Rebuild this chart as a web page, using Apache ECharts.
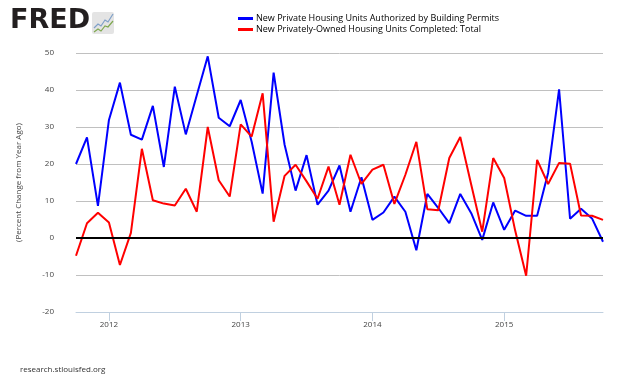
<!DOCTYPE html>
<html>
<head>
<meta charset="utf-8">
<script src="https://cdn.jsdelivr.net/npm/echarts@6/dist/echarts.min.js"></script>
<style>
html,body{margin:0;padding:0;background:#fff;}
#chart{width:630px;height:378px;}
</style>
</head>
<body>
<div id="chart"></div>
<script>
// Monthly, Oct 2011 - Oct 2015
const months = [
  '2011-10','2011-11','2011-12',
  '2012-01','2012-02','2012-03','2012-04','2012-05','2012-06','2012-07','2012-08','2012-09','2012-10','2012-11','2012-12',
  '2013-01','2013-02','2013-03','2013-04','2013-05','2013-06','2013-07','2013-08','2013-09','2013-10','2013-11','2013-12',
  '2014-01','2014-02','2014-03','2014-04','2014-05','2014-06','2014-07','2014-08','2014-09','2014-10','2014-11','2014-12',
  '2015-01','2015-02','2015-03','2015-04','2015-05','2015-06','2015-07','2015-08','2015-09','2015-10'
];
const permitsName = 'New Private Housing Units Authorized by Building Permits';
const completedName = 'New Privately-Owned Housing Units Completed: Total';
const permits = [
  20.0, 27.2, 8.7,
  31.9, 42.0, 27.9, 26.6, 35.7, 19.2, 40.9, 28.0, 38.6, 49.1, 32.5, 30.2,
  37.3, 26.0, 12.0, 44.7, 25.2, 12.8, 22.4, 9.0, 12.8, 19.6, 7.1, 16.4,
  4.9, 6.9, 11.2, 7.1, -3.3, 11.9, 8.1, 4.0, 11.9, 6.7, -0.5, 9.6,
  2.2, 7.4, 6.0, 6.0, 17.6, 40.2, 5.2, 7.9, 5.3, -1.0
];
const completed = [
  -4.8, 4.0, 6.8,
  4.2, -7.3, 1.4, 24.1, 10.2, 9.3, 8.8, 13.3, 7.1, 30.0, 15.6, 11.2,
  30.7, 27.4, 39.1, 4.4, 16.8, 19.8, 15.3, 10.6, 19.3, 9.0, 22.5, 14.6,
  18.5, 19.8, 9.2, 17.1, 26.0, 7.8, 7.5, 21.6, 27.3, 14.4, 1.7, 21.6,
  16.2, 2.0, -10.2, 21.1, 14.6, 20.3, 20.1, 6.1, 6.0, 4.9
];
const yTicks = [-20, -10, 0, 10, 20, 30, 40, 50];
const yTitle = '(Percent Change from Year Ago)';
const footer = 'research.stlouisfed.org';

const chart = echarts.init(document.getElementById('chart'), null, {renderer: 'canvas'});
const isJan = (v) => String(v).slice(5) === '01';
const font = '"Open Sans", "DejaVu Sans", sans-serif';

chart.setOption({
  animation: false,
  backgroundColor: '#ffffff',
  textStyle: {fontFamily: font},
  grid: {left: 76, right: 27, top: 53, bottom: 66, containLabel: false},
  legend: {
    orient: 'vertical',
    left: 233, top: 9,
    itemWidth: 15, itemHeight: 3, itemGap: 2,
    icon: 'rect',
    textStyle: {fontSize: 9, color: '#000', fontFamily: font, padding: [0,0,0,-2]},
    data: [permitsName, completedName]
  },
  xAxis: {
    type: 'category',
    data: months,
    boundaryGap: false,
    axisLine: {onZero: false, lineStyle: {color: '#c0d0e0', width: 1}},
    axisTick: {show: true, length: 9, interval: (i, v) => isJan(v), lineStyle: {color: '#c0d0e0'}},
    axisLabel: {interval: (i, v) => isJan(v), formatter: (v) => v.slice(0, 4), fontSize: 8, color: '#444', margin: 9, fontFamily: font},
    splitLine: {show: false}
  },
  yAxis: {
    type: 'value',
    min: yTicks[0], max: yTicks[yTicks.length - 1], interval: 10,
    name: yTitle,
    nameLocation: 'middle',
    nameRotate: 90,
    nameGap: 53,
    nameTextStyle: {fontSize: 8, color: '#444', fontFamily: font},
    axisLine: {show: false},
    axisTick: {show: false},
    axisLabel: {fontSize: 8, color: '#444', margin: 22, fontFamily: font},
    splitLine: {lineStyle: {color: '#c0c0c0', width: 1}}
  },
  series: [
    {
      name: permitsName, type: 'line', data: permits,
      color: '#0000ff', showSymbol: false, symbol: 'none',
      lineStyle: {color: '#0000ff', width: 2}, z: 3
    },
    {
      name: completedName, type: 'line', data: completed,
      color: '#ff0000', showSymbol: false, symbol: 'none',
      lineStyle: {color: '#ff0000', width: 2}, z: 4,
      markLine: {
        silent: true, symbol: 'none', label: {show: false},
        lineStyle: {color: '#000', width: 2, type: 'solid'},
        data: [{yAxis: 0}]
      }
    }
  ],
  graphic: [
    {type: 'text', left: 10, top: 7, style: {text: 'FRED', font: 'bold 27px "DejaVu Sans", sans-serif', fill: '#231f20'}},
    {type: 'rect', left: 92, top: 12, shape: {width: 22, height: 22, r: 2}, style: {fill: '#e4e4e4'}},
    {type: 'polyline', shape: {points: [[94,28],[98,24],[101,26],[105,20],[108,22],[113,14]]}, style: {stroke: '#7fa0c8', lineWidth: 1.2, fill: null}},
    {type: 'polyline', shape: {points: [[94,32],[98,29],[101,31],[105,26],[108,27],[113,21]]}, style: {stroke: '#7fa850', lineWidth: 1.2, fill: null}},
    {type: 'text', left: 20, top: 366, style: {text: footer, font: '8px "Open Sans", sans-serif', fill: '#333'}}
  ]
});
</script>
</body>
</html>
